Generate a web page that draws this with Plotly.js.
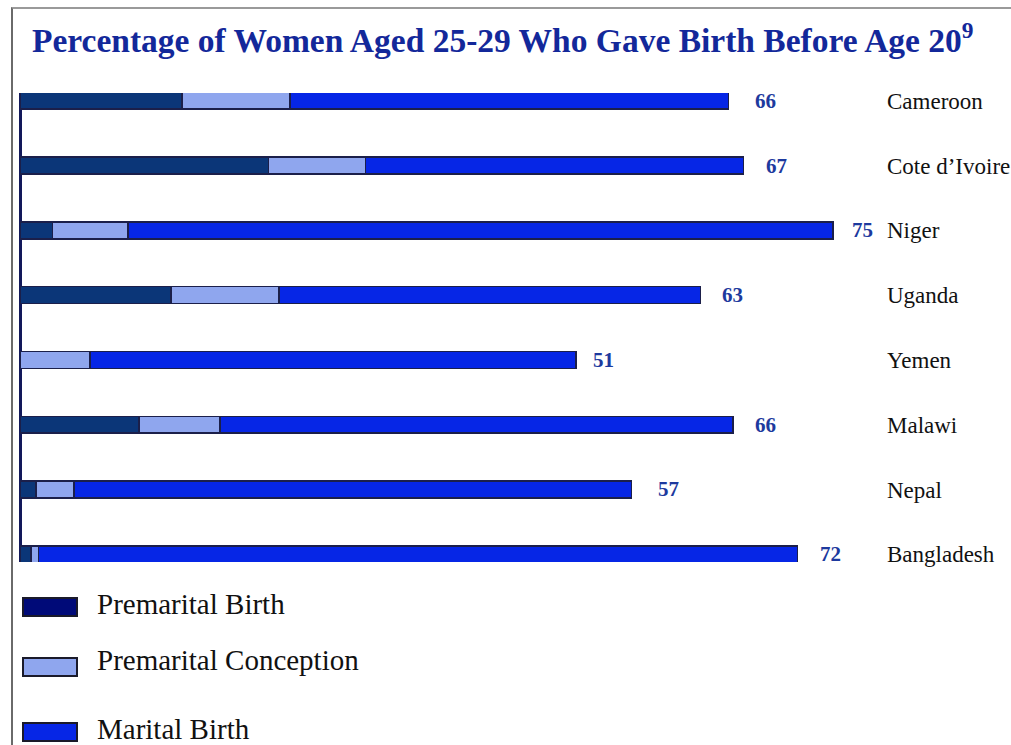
<!DOCTYPE html>
<html>
<head>
<meta charset="utf-8">
<script src="https://cdn.plot.ly/plotly-3.0.1.min.js"></script>
<style>
  html, body { margin: 0; padding: 0; background: #ffffff; }
  #wrap { position: relative; width: 1011px; height: 745px; overflow: hidden; }
  #chart { width: 1011px; height: 745px; }
  #frame { position: absolute; left: 11px; top: 7px; right: -5px; bottom: -5px;
           border-left: 2px solid #6a6a6a; border-top: 2px solid #9a9a9a; pointer-events: none; }
</style>
</head>
<body>
<div id="wrap">
  <div id="chart"></div>
  <div id="frame"></div>
</div>
<script>
// ---- data ----
const countries = ['Cameroon', 'Cote d\u2019Ivoire', 'Niger', 'Uganda', 'Yemen', 'Malawi', 'Nepal', 'Bangladesh'];
const premaritalBirth = [15, 23, 3, 14, 0, 11, 1.5, 1];
const premaritalConception = [10, 9, 7, 10, 6.5, 7.5, 3.5, 0.7];
const maritalBirth = [40.6, 35, 65.3, 39, 45, 47.5, 51.6, 70.3];
const totals = [66, 67, 75, 63, 51, 66, 57, 72];
const seriesNames = ['Premarital Birth', 'Premarital Conception', 'Marital Birth'];
const titleText = 'Percentage of Women Aged 25-29 Who Gave Birth Before Age 20<sup>9</sup>';

// ---- styles ----
const colors = ['#0b3678', '#8fa6ee', '#0626e6'];
const legendColors = ['#000a78', '#8fa6ee', '#0626e6'];
const outline = '#1b1f4a';
const serif = '"Liberation Serif", "Times New Roman", serif';

const seriesValues = [premaritalBirth, premaritalConception, maritalBirth];
const traces = seriesValues.map((vals, i) => ({
  type: 'bar',
  orientation: 'h',
  name: seriesNames[i],
  x: vals,
  y: countries,
  width: 0.26,
  marker: { color: colors[i], line: { color: outline, width: 1.5 } },
  showlegend: false,
  hoverinfo: 'x+name'
}));

// plot area geometry (pixels) used for legend placement
const L = 20, R = 870, T = 93, B = 562;
const px2x = p => (p - L) / (R - L);
const py2y = p => (B - p) / (B - T);

const annotations = [];
// totals at bar ends
countries.forEach((c, i) => {
  annotations.push({
    x: totals[i], y: c, xref: 'x', yref: 'y',
    text: String(totals[i]), showarrow: false,
    xanchor: 'left', yanchor: 'middle', xshift: 20,
    font: { family: serif, size: 21, color: '#1d3a9e', weight: 'bold' }
  });
});

// manual legend
const shapes = [];
const legendRows = [607, 667, 732];
const legendTextRows = [604, 660, 729];
seriesNames.forEach((n, i) => {
  shapes.push({
    type: 'rect', xref: 'paper', yref: 'paper',
    x0: px2x(23), x1: px2x(77),
    y0: py2y(legendRows[i] + 9), y1: py2y(legendRows[i] - 9),
    fillcolor: legendColors[i], line: { color: '#1a1a2a', width: 2 }
  });
  annotations.push({
    xref: 'paper', yref: 'paper', x: px2x(95), y: py2y(legendTextRows[i]),
    xanchor: 'left', yanchor: 'middle', showarrow: false,
    text: n, font: { family: serif, size: 29, color: '#111111' }
  });
});

const layout = {
  width: 1011, height: 745,
  paper_bgcolor: '#ffffff', plot_bgcolor: '#ffffff',
  barmode: 'stack',
  margin: { l: L, r: 1011 - R, t: T, b: 745 - B, pad: 0 },
  title: {
    text: titleText,
    x: 32 / 1011, xanchor: 'left', xref: 'container',
    y: 1 - 40 / 745, yanchor: 'middle', yref: 'container',
    font: { family: serif, size: 33.5, color: '#13289a', weight: 'bold' }
  },
  xaxis: {
    range: [0, (R - L) / 10.8],
    showgrid: false, showticklabels: false, ticks: '',
    zeroline: true, zerolinecolor: '#12185a', zerolinewidth: 3,
    showline: false, fixedrange: true
  },
  yaxis: {
    type: 'category',
    categoryorder: 'array', categoryarray: countries,
    range: [7.12, -0.12],
    side: 'right', showgrid: false, zeroline: false, showline: false,
    ticks: '', ticklabelstandoff: 16,
    tickfont: { family: serif, size: 23, color: '#111111' },
    fixedrange: true
  },
  annotations: annotations,
  shapes: shapes,
  showlegend: false
};

Plotly.newPlot('chart', traces, layout, { displayModeBar: false, staticPlot: true });
</script>
</body>
</html>
